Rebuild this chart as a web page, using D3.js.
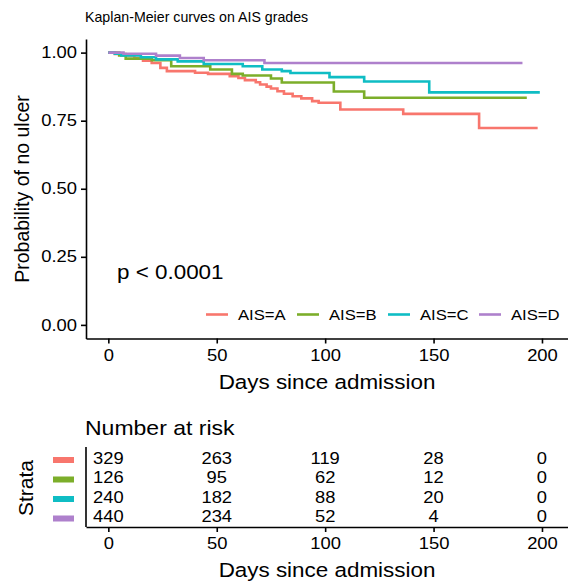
<!DOCTYPE html>
<html><head><meta charset="utf-8">
<script src="https://cdn.jsdelivr.net/npm/d3@7"></script>
<style>
html,body{margin:0;padding:0;background:#fff;}
text{font-family:"Liberation Sans",Arial,sans-serif;fill:#000;}
</style></head>
<body><svg id="c" width="568" height="583"></svg>
<script>
// ---- data ----
const strata = ["AIS=A","AIS=B","AIS=C","AIS=D"];
const colors = ["#F8766D","#7CAE2A","#0FBDC4","#AE80CC"];
const timesA = [0,3,8,12,16,20,24,27,40,46,56,60,63,68,70,73,75,78,81,85,89,94,97,107,136,171,198];
const survA  = [1,0.995,0.99,0.98,0.97,0.962,0.944,0.932,0.926,0.922,0.913,0.907,0.899,0.891,0.883,0.875,0.868,0.858,0.849,0.840,0.832,0.822,0.816,0.791,0.775,0.723,0.723];
const timesB = [0,5,8,20,29,47,57,62,75,80,104,118,193];
const survB  = [1,0.99,0.978,0.972,0.95,0.938,0.922,0.916,0.905,0.890,0.857,0.834,0.834];
const timesC = [0,3,6,15,22,32,44,62,71,80,84,102,118,148,199];
const survC  = [1,0.996,0.99,0.983,0.975,0.968,0.958,0.95,0.938,0.932,0.925,0.91,0.894,0.854,0.854];
const timesD = [0,7,22,33,44,72,191];
const survD  = [1,0.996,0.989,0.98,0.972,0.962,0.962];
const xTicks = [0,50,100,150,200];
const yTicks = [0,0.25,0.5,0.75,1];
const riskTimes = [0,50,100,150,200];
const riskA = [329,263,119,28,0];
const riskB = [126,95,62,12,0];
const riskC = [240,182,88,20,0];
const riskD = [440,234,52,4,0];

const svg = d3.select("#c");
const SX = 1.15;

function label(x, y, txt, size, opts={}) {
  const g = svg.append("g").attr("transform", `translate(${x},${y})` + (opts.rotate ? ` rotate(${opts.rotate})` : ""));
  g.append("text").attr("transform", `scale(${opts.sx ?? SX},1)`)
    .attr("text-anchor", opts.anchor || "start")
    .attr("dominant-baseline", "central")
    .style("font-size", size + "px").text(txt);
  return g;
}

// ---- main plot ----
const x = d3.scaleLinear().domain([-10.3, 212]).range([86, 568]);
const y = d3.scaleLinear().domain([-0.05, 1.05]).range([338.5, 39]);

label(85, 17, "Kaplan-Meier curves on AIS grades", 14.2, {sx:1.0});

const series = [[timesA,survA],[timesB,survB],[timesC,survC],[timesD,survD]];
const line = d3.line().x(d => x(d[0])).y(d => y(d[1])).curve(d3.curveStepAfter);
series.forEach((s, i) => {
  const pts = s[0].map((t, j) => [t, s[1][j]]);
  svg.append("path").datum(pts).attr("d", line)
    .attr("fill", "none").attr("stroke", colors[i]).attr("stroke-width", 2.6);
});

// axes
const xAxis = svg.append("g").attr("transform", "translate(0,338.5)")
  .call(d3.axisBottom(x).tickValues(xTicks).tickSize(5).tickPadding(4).tickSizeOuter(0));
const yAxis = svg.append("g").attr("transform", "translate(86,0)")
  .call(d3.axisLeft(y).tickValues(yTicks).tickFormat(d3.format(".2f")).tickSize(5).tickPadding(4).tickSizeOuter(0));
[xAxis, yAxis].forEach(a => {
  a.select(".domain").attr("stroke", "#000").attr("stroke-width", 1.6);
  a.selectAll(".tick line").attr("stroke", "#000").attr("stroke-width", 1.6);
  a.selectAll("text").style("font-size", "16px").style("font-family", '"Liberation Sans",Arial,sans-serif').attr("fill", "#000");
});
xAxis.selectAll("text").attr("transform", `scale(${SX},1)`).attr("dy", "0.71em").attr("y", 11);
yAxis.selectAll("text").attr("transform", `scale(${SX},1)`).attr("x", -9 / SX);

label(327, 382, "Days since admission", 19.5, {anchor:"middle"});
label(22, 189, "Probability of no ulcer", 19.5, {anchor:"middle", rotate:-90, sx:1.0});
label(117, 272, "p < 0.0001", 19.5);

// legend
const legX = [206, 297, 388, 479];
strata.forEach((s, i) => {
  svg.append("line").attr("x1", legX[i]).attr("x2", legX[i] + 22)
    .attr("y1", 314.5).attr("y2", 314.5).attr("stroke", colors[i]).attr("stroke-width", 2.6);
  label(legX[i] + 32, 315, s, 14.5);
});

// ---- risk table ----
label(85, 428, "Number at risk", 20);
label(25, 488, "Strata", 21, {anchor:"middle", rotate:-90, sx:1.0});
const rowY = [458, 477.5, 497, 516.5];
const risks = [riskA, riskB, riskC, riskD];
risks.forEach((r, i) => {
  svg.append("rect").attr("x", 53).attr("y", rowY[i] + 2 - 3).attr("width", 21).attr("height", 6).attr("fill", colors[i]);
  r.forEach((v, j) => label(x(riskTimes[j]), rowY[i], v, 17, {anchor:"middle", sx:1.08}));
});
const tAxis = svg.append("g").attr("transform", "translate(0,527)")
  .call(d3.axisBottom(x).tickValues(xTicks).tickSize(5).tickPadding(4).tickSizeOuter(0));
tAxis.select(".domain").attr("stroke", "#000").attr("stroke-width", 1.6);
tAxis.selectAll(".tick line").attr("stroke", "#000").attr("stroke-width", 1.6);
tAxis.selectAll("text").style("font-size", "16px").style("font-family", '"Liberation Sans",Arial,sans-serif').attr("fill", "#000")
  .attr("transform", `scale(${SX},1)`).attr("dy", "0.71em").attr("y", 11);
svg.append("line").attr("x1", 86).attr("x2", 86).attr("y1", 447).attr("y2", 527).attr("stroke", "#000").attr("stroke-width", 1.6);
label(327, 570, "Days since admission", 19.5, {anchor:"middle"});
</script></body></html>
